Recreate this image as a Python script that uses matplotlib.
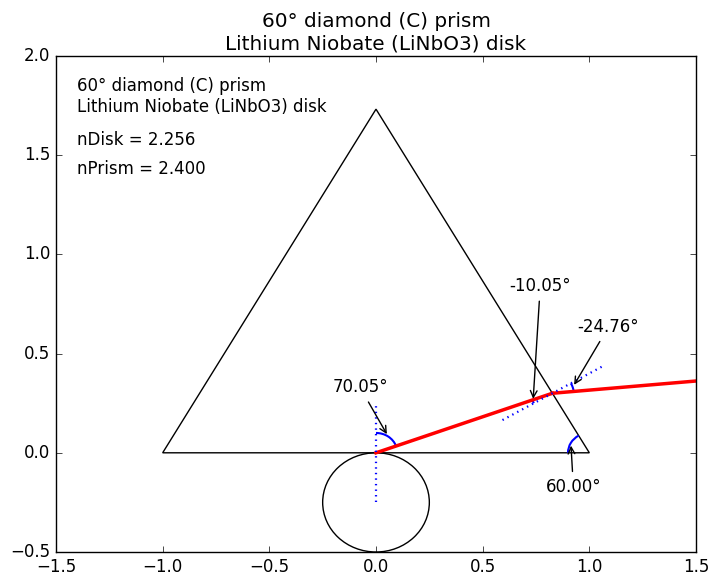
import numpy as np
import matplotlib
matplotlib.use('Agg')
import matplotlib.pyplot as plt
from matplotlib.patches import Polygon, Circle, Arc

# prism and disk
prism_x = [-1.0, 1.0, 0.0]
prism_y = [0.0, 0.0, np.sqrt(3.0)]
disk_center = (0.0, -0.25)
disk_radius = 0.25

n_disk = 2.256
n_prism = 2.400
apex_angle = 60.00      # prism base angle at the right corner
incidence = 70.05       # ray angle from the base normal at the contact point
face_incidence = -10.05 # angle to the normal of the exit face (inside)
exit_angle = -24.76     # refracted angle outside the prism

arc_r = 0.1
normal_len = 0.27

plt.style.use('classic')
fig = plt.figure(figsize=(7.1, 5.77), dpi=100, facecolor='w')
ax = fig.add_axes([56/710., 1 - 552/577., 640/710., 496/577.])

# geometry of the ray
ray_dir = 90.0 - incidence
face_normal = ray_dir - face_incidence
out_dir = face_normal + exit_angle
slope_in = np.tan(np.radians(ray_dir))
face_slope = (prism_y[2] - prism_y[1]) / (prism_x[2] - prism_x[1])
hx = (face_slope * prism_x[1]) / (face_slope - slope_in)
hy = slope_in * hx

ax.add_patch(Polygon(list(zip(prism_x, prism_y)), closed=True, fill=False, ec='k', lw=1))
ax.add_patch(Circle(disk_center, disk_radius, fill=False, ec='k', lw=1))

# ray path
ax.plot([0, hx], [0, hy], 'r-', lw=2.5)
ax.plot([hx, hx + 2*np.cos(np.radians(out_dir))], [hy, hy + 2*np.sin(np.radians(out_dir))], 'r-', lw=2.5)

# normals
ax.plot([0, 0], [disk_center[1], -disk_center[1]], 'b:', lw=1.6)
nc, ns = np.cos(np.radians(face_normal)), np.sin(np.radians(face_normal))
ax.plot([hx - normal_len*nc, hx + normal_len*nc], [hy - normal_len*ns, hy + normal_len*ns], 'b:', lw=1.6)

# angle arcs
arcs = [((0, 0), ray_dir, 90.0),
        ((hx, hy), 180 + ray_dir, 180 + face_normal),
        ((hx, hy), out_dir, face_normal),
        ((prism_x[1], 0), 180 - apex_angle, 180.0)]
for c, t1, t2 in arcs:
    ax.add_patch(Arc(c, 2*arc_r, 2*arc_r, theta1=t1, theta2=t2, color='b', lw=1.5))

labels = [incidence, face_incidence, exit_angle, apex_angle]
text_pos = [(-0.075, 0.33), (0.77, 0.84), (1.09, 0.635), (0.925, -0.17)]
for (c, t1, t2), val, tp in zip(arcs, labels, text_pos):
    mid = np.radians((t1 + t2) / 2.0)
    tip = (c[0] + arc_r*np.cos(mid), c[1] + arc_r*np.sin(mid))
    ax.annotate('%.2f\u00b0' % val, xy=tip, xytext=tp, ha='center', va='center',
                fontsize=12, arrowprops=dict(arrowstyle='->', color='k'))

title = '60\u00b0 diamond (C) prism\nLithium Niobate (LiNbO3) disk'
ax.set_title(title, fontsize=14.4)
ax.text(0.033, 0.958, title, transform=ax.transAxes, ha='left', va='top', fontsize=12)
ax.text(0.033, 0.848, 'nDisk = %.3f' % n_disk, transform=ax.transAxes, ha='left', va='top', fontsize=12)
ax.text(0.033, 0.790, 'nPrism = %.3f' % n_prism, transform=ax.transAxes, ha='left', va='top', fontsize=12)

ax.set_xlim(-1.5, 1.5)
ax.set_ylim(-0.5, 2.0)
ax.tick_params(labelsize=12)

fig.savefig('out.png', dpi=100, facecolor='w')
